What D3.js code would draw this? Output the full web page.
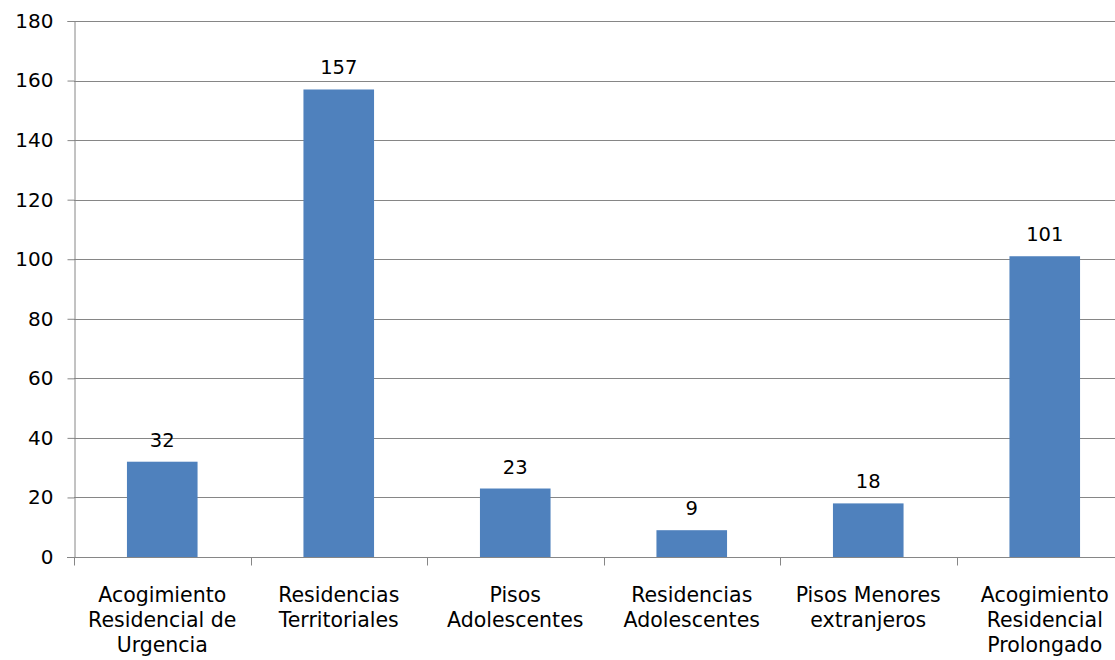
<!DOCTYPE html>
<html>
<head>
<meta charset="utf-8">
<script src="https://cdn.jsdelivr.net/npm/d3@7"></script>
<style>
  body { margin: 0; background: #ffffff; }
  svg text { font-family: "DejaVu Sans", Verdana, sans-serif; fill: #000; }
</style>
</head>
<body>
<svg id="chart" width="1115" height="660"></svg>
<script>
// --- Données ---
const categories = [
    ["Acogimiento", "Residencial de", "Urgencia"],
    ["Residencias", "Territoriales"],
    ["Pisos", "Adolescentes"],
    ["Residencias", "Adolescentes"],
    ["Pisos Menores", "extranjeros"],
    ["Acogimiento", "Residencial", "Prolongado"]
];
const values = [32, 157, 23, 9, 18, 101];
const yTicks = [0, 20, 40, 60, 80, 100, 120, 140, 160, 180];

const svg = d3.select("#chart");
const plotLeft = 74, plotTop = 21, plotBottom = 557;
const catWidth = 176.5;
const plotRight = plotLeft + catWidth * categories.length; // le graphique dépasse le bord droit

const x = d3.scaleBand()
    .domain(d3.range(categories.length))
    .range([plotLeft, plotRight])
    .paddingInner(0.6)
    .paddingOuter(0.3);

const y = d3.scaleLinear().domain([0, 180]).range([plotBottom, plotTop]);

// Grille horizontale
svg.append("g")
    .selectAll("line")
    .data(yTicks.filter(d => d > 0))
    .join("line")
    .attr("x1", plotLeft).attr("x2", 1115)
    .attr("y1", d => Math.round(y(d)) + 0.5).attr("y2", d => Math.round(y(d)) + 0.5)
    .attr("stroke", "#868686").attr("stroke-width", 1);

// Barres
svg.append("g")
    .selectAll("rect")
    .data(values)
    .join("rect")
    .attr("x", (d, i) => x(i))
    .attr("width", x.bandwidth())
    .attr("y", d => y(d))
    .attr("height", d => y(0) - y(d))
    .attr("fill", "#4F81BD");

// Étiquettes de valeurs
svg.append("g")
    .selectAll("text")
    .data(values)
    .join("text")
    .attr("x", (d, i) => x(i) + x.bandwidth() / 2)
    .attr("y", d => y(d) - 15)
    .attr("text-anchor", "middle")
    .style("font-size", "19.5px")
    .text(d => d);

// Axe Y
const yAxis = svg.append("g")
    .attr("transform", `translate(${plotLeft + 0.5},0)`)
    .call(d3.axisLeft(y).tickValues(yTicks).tickSize(7).tickPadding(14));
yAxis.select(".domain").attr("stroke", "#868686");
yAxis.selectAll(".tick line").attr("stroke", "#868686");
yAxis.selectAll(".tick text")
    .style("font-size", "20px")
    .style("font-family", "'DejaVu Sans', Verdana, sans-serif")
    .attr("fill", "#000");

// Axe X (ligne de base + graduations entre catégories)
const xBase = Math.round(plotBottom) + 0.5;
svg.append("line")
    .attr("x1", plotLeft - 7).attr("x2", 1115)
    .attr("y1", xBase).attr("y2", xBase)
    .attr("stroke", "#868686");
svg.append("g")
    .selectAll("line")
    .data(d3.range(categories.length + 1))
    .join("line")
    .attr("x1", i => Math.round(plotLeft + i * catWidth) + 0.5)
    .attr("x2", i => Math.round(plotLeft + i * catWidth) + 0.5)
    .attr("y1", xBase).attr("y2", xBase + 8)
    .attr("stroke", "#868686");

// Libellés des catégories
svg.append("g")
    .selectAll("text")
    .data(categories)
    .join("text")
    .attr("text-anchor", "middle")
    .style("font-size", "20.5px")
    .each(function(lines, i) {
        d3.select(this).selectAll("tspan")
            .data(lines)
            .join("tspan")
            .attr("x", x(i) + x.bandwidth() / 2)
            .attr("y", (l, j) => 602 + j * 25)
            .text(l => l);
    });
</script>
</body>
</html>
